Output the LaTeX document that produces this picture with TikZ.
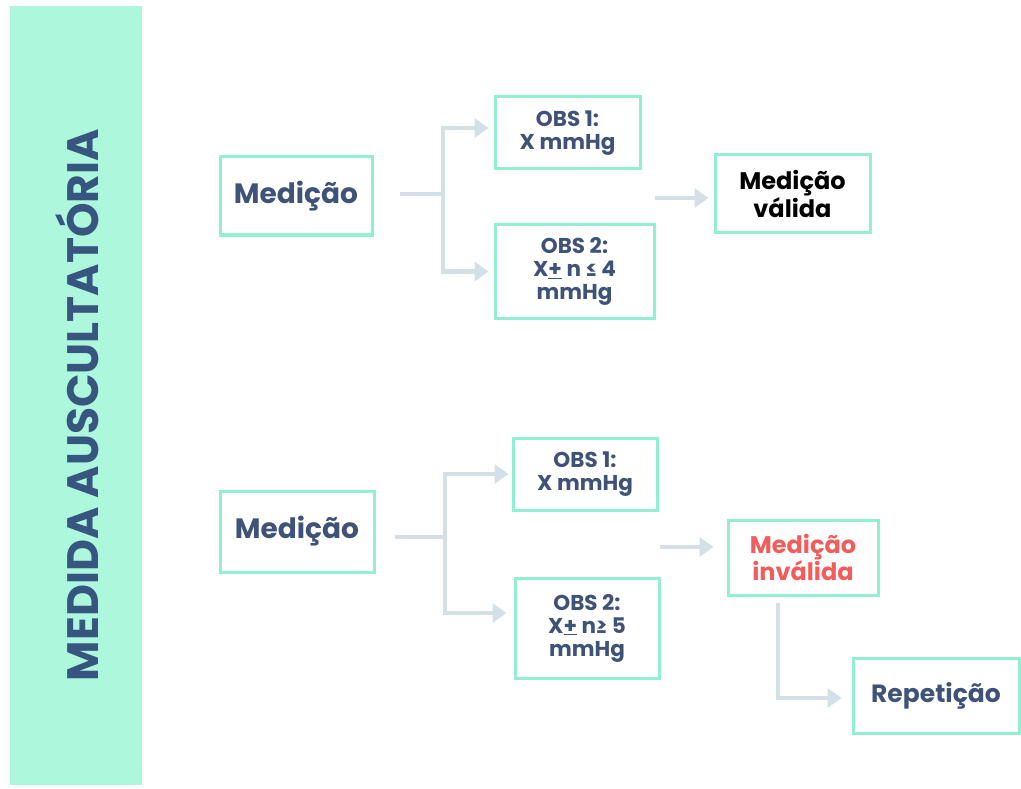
\documentclass[tikz,border=0pt]{standalone}
\usepackage{fontspec}
\setmainfont{Poppins}
\usetikzlibrary{arrows.meta,calc}
\definecolor{band}{HTML}{ADF7DC}
\definecolor{boxline}{HTML}{92EFD3}
\definecolor{txt}{HTML}{3F5378}
\definecolor{title}{HTML}{36557F}
\definecolor{red}{HTML}{F25C5C}
\definecolor{conn}{HTML}{D3E1E6}
\begin{document}
\begin{tikzpicture}[x=1pt,y=-1pt,
  box/.style={draw=boxline,line width=3pt,fill=white,rectangle,inner sep=0pt,align=center,font=\bfseries\fontsize{21.5}{23}\selectfont,text=txt},
  line/.style={draw=conn,line width=4.5pt},
  arr/.style={line,-{Triangle[width=19pt,length=14pt]}}]
\useasboundingbox (0,0) rectangle (1021,789);
\fill[white] (0,0) rectangle (1021,789);
\fill[band] (10,6) rectangle (142,785);
\node[rotate=90,text=title,font=\bfseries\fontsize{44}{48}\selectfont] (title) at (77,405) {MEDIDA AUSCULTATÓRIA};
% top group
\node[box,minimum width=152pt,minimum height=78pt,font=\bfseries\fontsize{28}{30}\selectfont] (m1) at (296,196) {Medição};
\node[box,minimum width=145pt,minimum height=72pt] (o1) at (567.5,133) {OBS 1:\\X mmHg};
\node[box,minimum width=159pt,minimum height=93pt] (o2) at (574.5,271.5) {OBS 2:\\X\underline{+} n ≤ 4\\mmHg};
\node[box,minimum width=155pt,minimum height=78pt,text=black,font=\bfseries\fontsize{24}{25}\selectfont] (v) at (792.5,194) {Medição\\válida};
\coordinate (j1) at (443,194);
\draw[line] ([xshift=26pt]m1.east |- j1) -- (j1);
\draw[arr] (j1) |- ([xshift=-5pt,yshift=5pt]o1.west);
\draw[arr] (j1) |- ([xshift=-5pt]o2.west);
\coordinate (a1) at (655,198);
\draw[arr] (a1) -- ([xshift=-5pt]a1 -| v.west);
% bottom group
\node[box,minimum width=154pt,minimum height=81pt,font=\bfseries\fontsize{28}{30}\selectfont] (m2) at (297,531.5) {Medição};
\node[box,minimum width=144pt,minimum height=72pt] (p1) at (585,474) {OBS 1:\\X mmHg};
\node[box,minimum width=144pt,minimum height=100pt] (p2) at (587,628) {OBS 2:\\X\underline{+} n≥ 5\\mmHg};
\node[box,minimum width=150pt,minimum height=75pt,text=red,font=\bfseries\fontsize{24}{25}\selectfont] (inv) at (803,557.5) {Medição\\inválida};
\node[box,minimum width=166pt,minimum height=75pt,font=\bfseries\fontsize{25}{27}\selectfont] (rep) at (936,695.5) {Repetição};
\coordinate (j2) at (445,537);
\draw[line] ([xshift=19pt]m2.east |- j2) -- (j2);
\draw[arr] (j2) |- ([xshift=-3pt]p1.west);
\draw[arr] (j2) |- ([xshift=-7pt,yshift=15pt]p2.west);
\coordinate (a2) at (660,547);
\draw[arr] (a2) -- ([xshift=-13pt]a2 -| inv.west);
\coordinate (c2) at (778,603);
\draw[arr] (c2) |- ([xshift=-10pt,yshift=-2.5pt]rep.west);
\end{tikzpicture}
\end{document}
